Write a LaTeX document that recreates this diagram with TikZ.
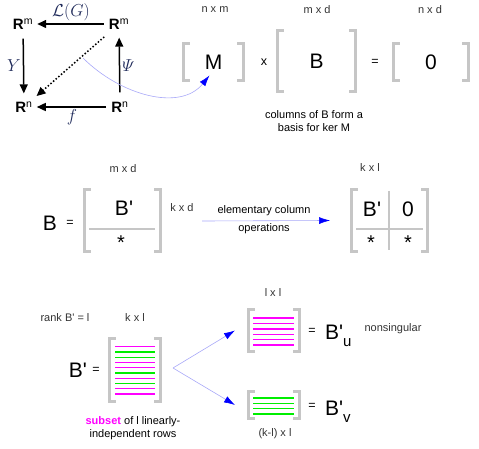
\documentclass[tikz,border=0pt]{standalone}
\usepackage[no-math]{fontspec}
\setmainfont{Liberation Sans}
\usepackage{amsmath}
\usetikzlibrary{
  arrows.meta,
  positioning,
  calc
}
\definecolor{mxGray}{HTML}{C6C6C6}
\definecolor{mxRowA}{HTML}{FF00FF}
\definecolor{mxRowB}{HTML}{00EE00}
\definecolor{mxBlue}{HTML}{0000FF}
\definecolor{mxLine}{HTML}{A8A8F8}
\definecolor{mxLabel}{HTML}{1F2A5A}
\definecolor{mxDim}{HTML}{333333}
\newcommand{\Bpr}{B\textquotesingle}
\tikzset{
  mxbox/.style={inner sep=0pt, font=\fontsize{21}{21}\selectfont},
  bracket/.style={draw=mxGray, line width=3.5pt, line cap=butt, line join=miter},
  splitline/.style={draw=mxGray, line width=2.8pt},
  rowA/.style={draw=mxRowA, line width=1.4pt},
  rowB/.style={draw=mxRowB, line width=1.4pt},
  cdnode/.style={font=\fontsize{15}{15}\selectfont\bfseries, inner xsep=3pt, inner ysep=7pt},
  cdarrow/.style={-{Triangle[length=9pt,width=8pt]}, line width=1.5pt, shorten >=1pt, shorten <=2pt},
  cddotted/.style={cdarrow, dash pattern=on 1.5pt off 2pt},
  cdlabel/.style={font=\fontsize{16}{16}\selectfont, text=mxLabel, inner sep=2pt},
  blueflow/.style={-{Latex[length=11pt,width=7pt,color=mxBlue]}, draw=mxLine, line width=0.6pt},
  dimlabel/.style={font=\fontsize{11}{12}\selectfont, text=mxDim},
  note/.style={font=\fontsize{11}{13}\selectfont, align=center},
  bigtext/.style={font=\fontsize{21}{21}\selectfont, inner sep=0pt},
  optext/.style={font=\fontsize{12.5}{12.5}\selectfont, inner sep=0pt},
  startext/.style={font=\fontsize{20}{20}\selectfont, inner sep=0pt}
}
\newcommand{\mxbrackets}[1]{%
  \draw[bracket] ([xshift=6pt]#1.north west) -- (#1.north west) -- (#1.south west) -- ([xshift=6pt]#1.south west);
  \draw[bracket] ([xshift=-6pt]#1.north east) -- (#1.north east) -- (#1.south east) -- ([xshift=-6pt]#1.south east);}

\begin{document}
\begin{tikzpicture}[x=1pt, y=1pt]
  \useasboundingbox (0,0) rectangle (479,-449);

  % commutative square
  \node[cdnode] (RmL) at (23,-24) {R\textsuperscript{\mdseries m}};
  \node[cdnode] (RmR) at (119,-24) {R\textsuperscript{\mdseries m}};
  \node[cdnode] (RnL) at (24,-107) {R\textsuperscript{\mdseries n}};
  \node[cdnode] (RnR) at (120,-107) {R\textsuperscript{\mdseries n}};
  \draw[cdarrow] (RmR) -- node[cdlabel, above] (lg) {$\mathcal{L}(G)$} (RmL);
  \draw[cdarrow] (RmL) -- node[cdlabel, left] (ly) {$Y$} (RnL);
  \draw[cdarrow] (RnR) -- node[cdlabel, right] (lpsi) {$\varPsi$} (RmR);
  \draw[cdarrow] (RnR) -- node[cdlabel, below] (lf) {$f$} (RnL);
  \draw[cddotted] (RmR) -- (RnL);
  \coordinate (cdmid) at (83,-58);

  % M x B = 0
  \node[mxbox, minimum width=59.5pt, minimum height=36.5pt] (matM) at (213.5,-62) {M};
  \node[mxbox, minimum width=77.5pt, minimum height=60.5pt] (matB) at (316.5,-61) {B};
  \node[mxbox, minimum width=74.5pt, minimum height=36.5pt] (matZ) at (431,-62) {0};
  \mxbrackets{matM}
  \mxbrackets{matB}
  \mxbrackets{matZ}
  \node[optext] (times) at (264,-62) {x};
  \node[optext] (eqA) at (375,-62) {=};
  \node[dimlabel] (dimM) at (215,-10) {n x m};
  \node[dimlabel] (dimB) at (317,-10) {m x d};
  \node[dimlabel] (dimZ) at (430,-10) {n x d};
  \node[note] (kernote) at (314,-121.5) {columns of B form a\\basis for ker M};
  \draw[blueflow] (cdmid) .. controls (120,-95) and (180,-112) .. ([shift={(-4pt,5pt)}]matM.south);

  % B split into B' and *
  \node[bigtext] (bigB) at (50,-223) {B};
  \node[optext] (eqB) at (70,-223) {=};
  \node[mxbox, minimum width=75.5pt, minimum height=61.5pt] (matS) at (122.5,-220.5) {};
  \mxbrackets{matS}
  \draw[splitline] (89,-229) -- (155,-229);
  \node[bigtext] (sTop) at (124,-208) {\Bpr};
  \node[startext] (sBot) at (121,-243) {*};
  \node[dimlabel] (dimS) at (123,-169) {m x d};
  \node[dimlabel] (dimSk) at (182,-208) {k x d};
  \coordinate (opsL) at (202,-221);
  \node[note] (opsTop) at (264,-211) {elementary column};
  \node[note] (opsBot) at (264,-229) {operations};

  % column-reduced block form
  \node[mxbox, minimum width=75.5pt, minimum height=61.5pt] (matC) at (389.5,-220.5) {};
  \mxbrackets{matC}
  \draw[splitline] (389,-191) -- (389,-250);
  \draw[splitline] (356,-229) -- (423,-229);
  \node[bigtext] (cTL) at (372,-209) {\Bpr};
  \node[bigtext] (cTR) at (408,-209) {0};
  \node[startext] (cBL) at (371,-243) {*};
  \node[startext] (cBR) at (408,-243) {*};
  \node[dimlabel] (dimC) at (370,-168) {k x l};
  \draw[blueflow] (opsL) -- ([xshift=-21.5pt]matC.west);

  % rows of B'
  \node[dimlabel] (rankB) at (65,-318) {rank \Bpr{} = l};
  \node[dimlabel] (dimP) at (135,-318) {k x l};
  \node[bigtext] (bigP) at (78,-370) {\Bpr};
  \node[optext] (eqP) at (96,-370) {=};
  \node[mxbox, minimum width=50.5pt, minimum height=62.5pt] (matP) at (135,-370) {};
  \mxbrackets{matP}
  \foreach \c [count=\i from 0] in {rowA,rowB,rowB,rowA,rowA,rowB,rowA,rowB,rowA,rowA}
    \draw[\c] (115,{-346.7-5.26*\i}) -- (155,{-346.7-5.26*\i});
  \node[note] (subnote) at (133,-428.5) {\textcolor{mxRowA}{\bfseries subset} of l linearly-\\independent rows};

  % B'_u and B'_v
  \node[mxbox, minimum width=50.5pt, minimum height=41.5pt] (matU) at (274,-330.5) {};
  \node[mxbox, minimum width=50.5pt, minimum height=26.5pt] (matV) at (274,-405) {};
  \mxbrackets{matU}
  \mxbrackets{matV}
  \foreach \i in {0,...,5}
    \draw[rowA] (253,{-318-5.4*\i}) -- (294,{-318-5.4*\i});
  \foreach \i in {0,...,3}
    \draw[rowB] (253,{-398-5.33*\i}) -- (294,{-398-5.33*\i});
  \node[dimlabel] (dimU) at (273,-293) {l x l};
  \node[dimlabel] (dimV) at (275,-434) {(k-l) x l};
  \node[optext] (eqU) at (312,-331) {=};
  \node[optext] (eqV) at (312,-406) {=};
  \node[bigtext, anchor=base west] (Bu) at (325,-339) {\Bpr\raisebox{-7pt}{\fontsize{15}{15}\selectfont u}};
  \node[bigtext, anchor=base west] (Bv) at (325,-415) {\Bpr\raisebox{-7pt}{\fontsize{15}{15}\selectfont v}};
  \node[dimlabel] (nonsing) at (393,-329) {nonsingular};
  \coordinate (fork) at (173,-368);
  \draw[blueflow] (fork) -- ([xshift=-13.5pt]matU.west);
  \draw[blueflow] (fork) -- ([xshift=-13.5pt]matV.west);
\end{tikzpicture}
\end{document}
